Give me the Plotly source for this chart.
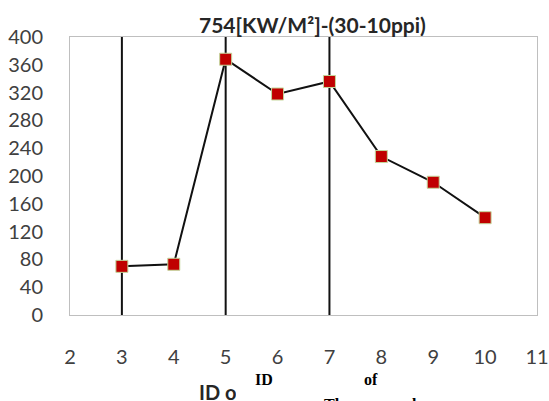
import plotly.graph_objects as go

# Thermocouple readings
thermocouple_id = [3, 4, 5, 6, 7, 8, 9, 10]
temperature = [70, 73, 368, 318, 336, 228, 191, 140]

# Vertical reference lines at selected thermocouples
marker_lines = [3, 5, 7]

x_ticks = [2, 3, 4, 5, 6, 7, 8, 9, 10, 11]
y_ticks = [0, 40, 80, 120, 160, 200, 240, 280, 320, 360, 400]

W, H = 549, 401
L, R, T, B = 70, 12, 37, 86
PW, PH = W - L - R, H - T - B


def px(x):
    return (x - L) / PW


def py(y):
    return (H - B - y) / PH


fig = go.Figure()

fig.add_trace(go.Scatter(
    x=thermocouple_id, y=temperature, mode="lines+markers",
    line=dict(color="#111111", width=2),
    marker=dict(symbol="square", size=12, color="#C00000",
                line=dict(color="#C3D69B", width=1)),
    showlegend=False, cliponaxis=False,
))

for xv in marker_lines:
    fig.add_shape(type="line", xref="x", yref="y", x0=xv, x1=xv, y0=0, y1=400,
                  line=dict(color="#111111", width=2), layer="below")

tick_font = dict(family="Lato, Carlito, sans-serif", size=20, color="#404040")

fig.update_xaxes(range=[2, 11], tickvals=x_ticks, ticktext=[str(v) for v in x_ticks],
                 showgrid=False, zeroline=False, showline=True, mirror=True,
                 linecolor="#BFBFBF", linewidth=1, tickfont=tick_font,
                 ticks="", ticklabelstandoff=24, automargin=False)
fig.update_yaxes(range=[0, 400], tickvals=y_ticks, ticktext=[str(v) for v in y_ticks],
                 showgrid=False, zeroline=False, showline=True, mirror=True,
                 linecolor="#BFBFBF", linewidth=1, tickfont=tick_font,
                 ticks="", ticklabelstandoff=22, automargin=False)

annotations = [
    dict(text="<b>754[KW/M²]-(30-10ppi)</b>", x=px(312), y=py(24),
         font=dict(family="Lato, sans-serif", size=21, color="#262626")),
    dict(text="<b>ID of Thermocouple</b>", x=px(197), y=py(392), xanchor="left",
         width=37, align="left",
         font=dict(family="Lato, sans-serif", size=20, color="#262626")),
    dict(text="<b>ID</b>", x=px(264), y=py(379),
         font=dict(family="Liberation Serif, serif", size=16, color="#000000")),
    dict(text="<b>of</b>", x=px(371), y=py(379),
         font=dict(family="Liberation Serif, serif", size=16, color="#000000")),
    dict(text="<b>Thermocouple</b>", x=px(374), y=py(394), yanchor="top",
         font=dict(family="Liberation Serif, serif", size=16, color="#000000")),
]
for a in annotations:
    a.update(xref="paper", yref="paper", showarrow=False)
    a.setdefault("xanchor", "center")
    a.setdefault("yanchor", "middle")
fig.update_layout(annotations=annotations)

fig.update_layout(
    width=W, height=H, margin=dict(l=L, r=R, t=T, b=B, autoexpand=False),
    paper_bgcolor="white", plot_bgcolor="white",
)

fig.write_html("out.html")
